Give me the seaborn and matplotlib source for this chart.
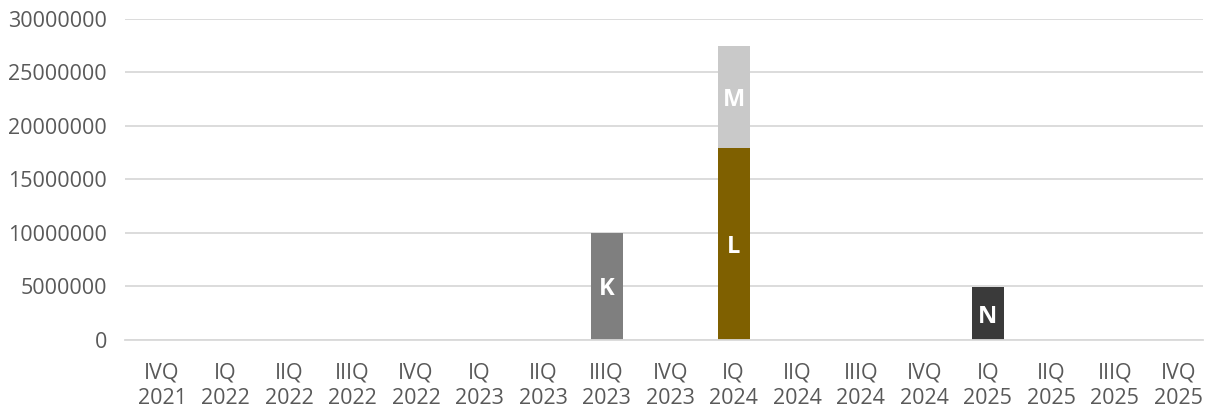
import pandas as pd
import seaborn as sns
from matplotlib import pyplot as plt
from matplotlib.ticker import FuncFormatter

quarters = [
    "IVQ\n2021", "IQ\n2022", "IIQ\n2022", "IIIQ\n2022", "IVQ\n2022",
    "IQ\n2023", "IIQ\n2023", "IIIQ\n2023", "IVQ\n2023", "IQ\n2024",
    "IIQ\n2024", "IIIQ\n2024", "IVQ\n2024", "IQ\n2025", "IIQ\n2025",
    "IIIQ\n2025", "IVQ\n2025",
]
k_values = [0, 0, 0, 0, 0, 0, 0, 10000000, 0, 0, 0, 0, 0, 0, 0, 0, 0]
l_values = [0, 0, 0, 0, 0, 0, 0, 0, 0, 17900000, 0, 0, 0, 0, 0, 0, 0]
m_values = [0, 0, 0, 0, 0, 0, 0, 0, 0, 9600000, 0, 0, 0, 0, 0, 0, 0]
n_values = [0, 0, 0, 0, 0, 0, 0, 0, 0, 0, 0, 0, 0, 4900000, 0, 0, 0]

series = [
    ("K", k_values, None, "#7f7f7f"),
    ("L", l_values, None, "#7f6000"),
    ("M", m_values, l_values, "#c9c9c9"),
    ("N", n_values, None, "#3a3a3a"),
]

sns.set_style("white")
plt.rcParams["font.family"] = ["Open Sans", "DejaVu Sans"]

fig = plt.figure(figsize=(12.07, 4.12), dpi=100)
ax = fig.add_axes([0.1036, 0.175, 0.8931, 0.779])

for name, values, bottom, color in series:
    df = pd.DataFrame({"quarter": quarters, "value": values})
    kws = {} if bottom is None else {"bottom": bottom}
    sns.barplot(data=df, x="quarter", y="value", color=color, width=0.5,
                saturation=1, linewidth=0, edgecolor="none", ax=ax, **kws)
    labels = [name if v > 0 else "" for v in values]
    texts = ax.bar_label(ax.containers[-1], labels=labels, label_type="center",
                         color="white", fontsize=17, fontweight="bold")
    for t in texts:
        t.set_va("center_baseline")

ax.set_ylim(0, 30000000)
ax.set_xlim(-0.583, 16.39)
ax.set_yticks(range(0, 30000001, 5000000))
ax.yaxis.set_major_formatter(FuncFormatter(lambda v, _: f"{int(v)}"))
ax.grid(axis="y", color="#d9d9d9", linewidth=1.3)
ax.set_axisbelow(True)
for side in ["top", "right", "left"]:
    ax.spines[side].set_visible(False)
ax.spines["bottom"].set_color("#d9d9d9")
ax.spines["bottom"].set_linewidth(1.3)
ax.tick_params(axis="both", length=0, labelsize=15.5, colors="#595959")
ax.tick_params(axis="y", pad=13)
ax.tick_params(axis="x", pad=16)
for lbl in ax.get_xticklabels():
    lbl.set_linespacing(1.3)
ax.set_xlabel("")
ax.set_ylabel("")

fig.savefig("out.png", dpi=100)
